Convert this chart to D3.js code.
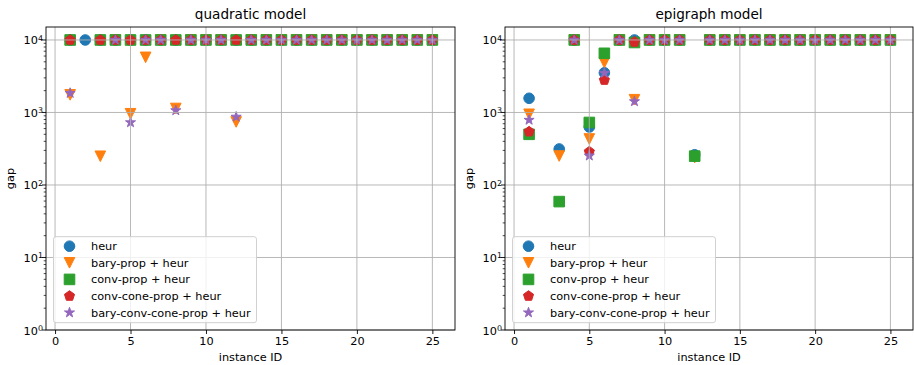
<!DOCTYPE html>
<html>
<head>
<meta charset="utf-8">
<script src="https://cdn.jsdelivr.net/npm/d3@7/dist/d3.min.js"></script>
<style>
  body { margin: 0; background: #fff; }
  svg text { font-family: "DejaVu Sans", sans-serif; fill: #000; }
</style>
</head>
<body>
<div class="canvas"></div>
<script>
// instance ids on the x axis
var ids = [1,2,3,4,5,6,7,8,9,10,11,12,13,14,15,16,17,18,19,20,21,22,23,24,25];
var xTicks = [0, 5, 10, 15, 20, 25];
var yTicks = [1, 10, 100, 1000, 10000];
var seriesNames = ["heur", "bary-prop + heur", "conv-prop + heur", "conv-cone-prop + heur", "bary-conv-cone-prop + heur"];
var T = 10000, N = null;

// quadratic model
var heurQ     = [T,T,T,T,T,T,T,T,T,T,T,T,T,T,T,T,T,T,T,T,T,T,T,T,T];
var baryQ     = [1750,N,249,T,960,5760,T,1135,T,T,T,740,T,T,T,T,T,T,T,T,T,T,T,T,T];
var convQ     = [T,N,T,T,T,T,T,T,T,T,T,T,T,T,T,T,T,T,T,T,T,T,T,T,T];
var coneQ     = [T,N,T,T,T,T,T,T,T,T,T,T,T,T,T,T,T,T,T,T,T,T,T,T,T];
var baryConeQ = [1850,N,N,T,728,T,T,1067,T,T,T,870,T,T,T,T,T,T,T,T,T,T,T,T,T];

// epigraph model
var heurE     = [1570,N,314,T,630,3530,T,T,T,T,T,261,T,T,T,T,T,T,T,T,T,T,T,T,T];
var baryE     = [944,N,251,T,431,4880,T,1500,T,T,T,239,T,T,T,T,T,T,T,T,T,T,T,T,T];
var convE     = [500,N,59,T,728,6550,T,9230,T,T,T,250,T,T,T,T,T,T,T,T,T,T,T,T,T];
var coneE     = [544,N,N,T,288,2800,T,9400,T,T,T,N,T,T,T,T,T,T,T,T,T,T,T,T,T];
var baryConeE = [788,N,N,T,253,3500,T,1420,T,T,T,N,T,T,T,T,T,T,T,T,T,T,T,T,T];

var colors = ["#1f77b4", "#ff7f0e", "#2ca02c", "#d62728", "#9467bd"];
var markers = ["circle", "tridown", "square", "pentagon", "star"];

var width = 914, height = 365;
var plotTop = 27, plotBottom = 330;
var fs = 11.3;
var ms = 10.6;

function markerPath(type, m) {
  var r = m / 2;
  if (type === "circle") return d3.symbol(d3.symbolCircle, Math.PI * r * r)();
  if (type === "square") return "M" + (-r) + "," + (-r) + "h" + m + "v" + m + "h" + (-m) + "Z";
  if (type === "tridown") return "M0," + r + "L" + (-r) + "," + (-r) + "L" + r + "," + (-r) + "Z";
  var pts = [];
  if (type === "pentagon") {
    for (var i = 0; i < 5; i++) {
      var a = -Math.PI / 2 + i * 2 * Math.PI / 5;
      pts.push([r * Math.cos(a), r * Math.sin(a)]);
    }
  } else {
    for (var j = 0; j < 10; j++) {
      var b = -Math.PI / 2 + j * Math.PI / 5;
      var rr = j % 2 === 0 ? r : r * 0.381966;
      pts.push([rr * Math.cos(b), rr * Math.sin(b)]);
    }
  }
  return "M" + pts.map(function(p){ return p[0].toFixed(2) + "," + p[1].toFixed(2); }).join("L") + "Z";
}

var svg = d3.select(".canvas").append("svg")
  .attr("width", width).attr("height", height);

function supLabel(sel, exp) {
  sel.append("tspan").text("10");
  sel.append("tspan").attr("dy", "-0.45em").attr("font-size", (fs * 0.7) + "px").text(exp);
}

function panel(left, right, title, data) {
  var x = d3.scaleLinear().domain([-0.6, 26.5]).range([left, right]);
  var y = d3.scaleLog().domain([1, 15100]).range([plotBottom, plotTop]);
  var g = svg.append("g");

  // markers
  data.forEach(function(vals, si) {
    g.append("g").selectAll("path")
      .data(ids.map(function(id, i){ return {id: id, v: vals[i]}; }).filter(function(d){ return d.v !== null; }))
      .enter().append("path")
      .attr("d", markerPath(markers[si], ms))
      .attr("transform", function(d){ return "translate(" + x(d.id) + "," + y(d.v) + ")"; })
      .attr("fill", colors[si])
      .attr("stroke", colors[si])
      .attr("stroke-width", 1);
  });

  // grid
  var grid = g.append("g").attr("stroke", "#b0b0b0").attr("stroke-width", 0.9);
  xTicks.forEach(function(t){
    grid.append("line").attr("x1", x(t)).attr("x2", x(t)).attr("y1", plotTop).attr("y2", plotBottom);
  });
  yTicks.forEach(function(t){
    grid.append("line").attr("x1", left).attr("x2", right).attr("y1", y(t)).attr("y2", y(t));
  });

  // legend
  var lx = left + 7.5, ly = plotBottom - 7.3 - 86;
  var leg = g.append("g");
  leg.append("rect").attr("x", lx).attr("y", ly).attr("width", 203).attr("height", 86)
    .attr("rx", 2.5).attr("fill", "#fff").attr("fill-opacity", 0.8)
    .attr("stroke", "#cccccc").attr("stroke-width", 0.9);
  seriesNames.forEach(function(name, si) {
    var ey = ly + 9.5 + si * 16.6;
    leg.append("path").attr("d", markerPath(markers[si], ms))
      .attr("transform", "translate(" + (lx + 16) + "," + ey + ")")
      .attr("fill", colors[si]).attr("stroke", colors[si]).attr("stroke-width", 1);
    leg.append("text").attr("x", lx + 37.5).attr("y", ey + 4)
      .attr("font-size", fs + "px").text(name);
  });

  // x axis
  var xa = g.append("g").attr("transform", "translate(0," + plotBottom + ")")
    .call(d3.axisBottom(x).tickValues(xTicks).tickSize(4).tickPadding(3));
  xa.select(".domain").remove();
  xa.selectAll("text").attr("font-size", fs + "px").attr("font-family", "DejaVu Sans");
  xa.selectAll("line").attr("stroke-width", 0.9);

  // y axis, major and minor ticks
  var minor = [];
  for (var k = 0; k < 5; k++) for (var mm = 2; mm < 10; mm++) {
    var v = mm * Math.pow(10, k);
    if (v < 15100) minor.push(v);
  }
  var ya = g.append("g").attr("transform", "translate(" + left + ",0)");
  ya.selectAll(".minor").data(minor).enter().append("line")
    .attr("x1", -2.3).attr("x2", 0).attr("y1", function(d){ return y(d); }).attr("y2", function(d){ return y(d); })
    .attr("stroke", "#000").attr("stroke-width", 0.7);
  ya.selectAll(".major").data(yTicks).enter().append("line")
    .attr("x1", -4).attr("x2", 0).attr("y1", function(d){ return y(d); }).attr("y2", function(d){ return y(d); })
    .attr("stroke", "#000").attr("stroke-width", 0.9);
  yTicks.forEach(function(t, i) {
    var tx = ya.append("text").attr("x", -3).attr("y", y(t) + 4.5)
      .attr("text-anchor", "end").attr("font-size", fs + "px");
    supLabel(tx, String(i));
  });

  // frame
  g.append("rect").attr("x", left).attr("y", plotTop).attr("width", right - left).attr("height", plotBottom - plotTop)
    .attr("fill", "none").attr("stroke", "#000").attr("stroke-width", 0.9);

  // labels
  g.append("text").attr("x", (left + right) / 2).attr("y", 19).attr("text-anchor", "middle")
    .attr("font-size", "13.6px").text(title);
  g.append("text").attr("x", (left + right) / 2).attr("y", 361).attr("text-anchor", "middle")
    .attr("font-size", fs + "px").text("instance ID");
  g.append("text").attr("transform", "translate(" + (left - 32.5) + "," + ((plotTop + plotBottom) / 2) + ") rotate(-90)")
    .attr("text-anchor", "middle").attr("font-size", fs + "px").text("gap");
}

panel(46, 455, "quadratic model", [heurQ, baryQ, convQ, coneQ, baryConeQ]);
panel(505, 913, "epigraph model", [heurE, baryE, convE, coneE, baryConeE]);
</script>
</body>
</html>
